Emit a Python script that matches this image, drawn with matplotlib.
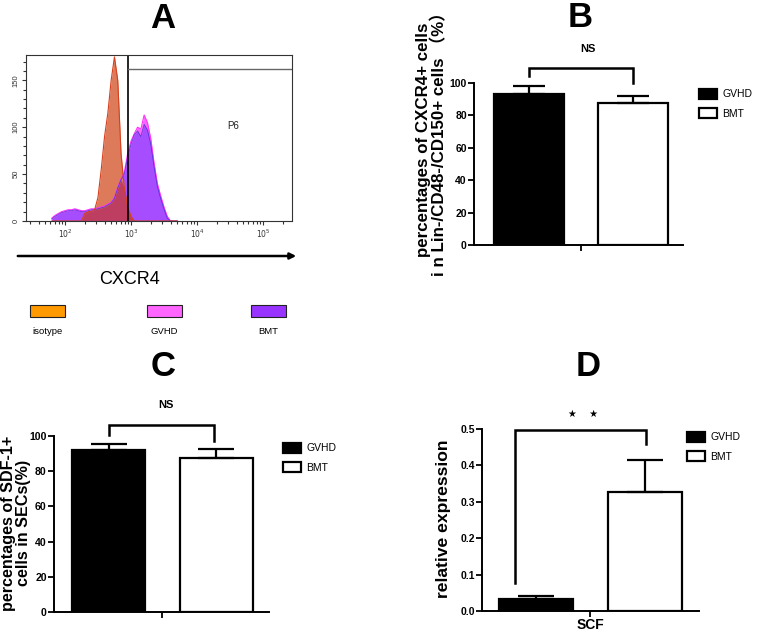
import numpy as np
import matplotlib
matplotlib.use("Agg")
import matplotlib.pyplot as plt
from matplotlib.patches import Rectangle, FancyArrowPatch
from matplotlib.ticker import MultipleLocator, FixedLocator

# ---------------- data ----------------
# Panel A: flow histogram (log10 of CXCR4 intensity, counts)
hist_log_bins = [1.80, 1.85, 1.90, 1.95, 2.00, 2.05, 2.10, 2.15, 2.20, 2.25,
                 2.30, 2.35, 2.40, 2.45, 2.50, 2.55, 2.60, 2.65, 2.70, 2.75,
                 2.80, 2.85, 2.90, 2.95, 3.00, 3.05, 3.10, 3.15, 3.20, 3.25,
                 3.30, 3.35, 3.40, 3.45, 3.50, 3.55, 3.60, 3.65, 3.70]
isotype_counts = [0, 0, 0, 0, 0, 0, 0, 0, 0, 0,
                  8, 10, 10, 12, 25, 55, 90, 115, 150, 175,
                  150, 72, 35, 15, 5, 0, 0, 0, 0, 0,
                  0, 0, 0, 0, 0, 0, 0, 0, 0]
gvhd_counts = [3, 6, 8, 10, 11, 12, 12, 13, 12, 11,
               11, 12, 13, 13, 14, 15, 16, 18, 20, 25,
               36, 45, 52, 72, 85, 93, 100, 98, 113, 105,
               88, 62, 40, 27, 15, 5, 0, 0, 0]
bmt_counts = [2, 5, 7, 9, 10, 11, 11, 12, 11, 10,
              10, 11, 12, 12, 13, 14, 15, 17, 19, 24,
              35, 44, 50, 68, 82, 92, 96, 90, 103, 97,
              82, 58, 37, 24, 13, 3, 0, 0, 0]
hist_labels = ["isotype", "GVHD", "BMT"]
gate_log = 2.95
gate_level = 162
gate_name = "P6"

groups = ["GVHD", "BMT"]
# Panel B
b_means = [93, 87.6]
b_errs = [5, 4.4]
# Panel C
c_means = [92, 87.5]
c_errs = [3.5, 5.1]
# Panel D
d_category = "SCF"
d_means = [0.034, 0.327]
d_errs = [0.006, 0.088]

# ---------------- layout helpers ----------------
W, H = 757, 636
fig = plt.figure(figsize=(W / 100, H / 100), dpi=100)
plt.rcParams['font.family'] = ['Liberation Sans', 'DejaVu Sans']


def fx(x):
    return x / W


def fy(y):
    return 1 - y / H


def add_ax(x0, x1, ytop, ybot):
    return fig.add_axes([fx(x0), fy(ybot), (x1 - x0) / W, (ybot - ytop) / H])


bold = dict(fontweight='bold')

# ---------------- Panel A ----------------
axA = add_ax(26, 292, 55, 221)
xs = [10 ** v for v in hist_log_bins]
pink = '#FF66FF'
purple = '#A64DFF'
salmon = '#DC7A5A'
axA.fill_between(xs, gvhd_counts, color=pink, lw=0)
axA.plot(xs, gvhd_counts, color='#FF33FF', lw=0.8)
axA.fill_between(xs, bmt_counts, color=purple, lw=0)
axA.plot(xs, bmt_counts, color='#3b2fd0', lw=0.6, alpha=0.8)
axA.fill_between(xs, isotype_counts, color=salmon, lw=0)
overlap = np.minimum(isotype_counts, bmt_counts)
axA.fill_between(xs, overlap, color='#BE3E62', lw=0)
axA.plot(xs, isotype_counts, color='#D5401E', lw=0.8)
axA.set_xscale('log')
axA.set_xlim(10 ** 1.41, 10 ** 5.44)
axA.set_ylim(0, 177)
axA.axvline(10 ** gate_log, color='black', lw=1.2)
axA.plot([10 ** gate_log, 10 ** 5.44], [gate_level, gate_level], color='#666666', lw=1.0)
axA.text(10 ** 4.55, 101, gate_name, fontsize=7, ha='center', va='center', color='#222222')
axA.xaxis.set_major_locator(FixedLocator([1e2, 1e3, 1e4, 1e5]))
axA.set_xticklabels([r'$10^2$', r'$10^3$', r'$10^4$', r'$10^5$'], fontsize=5.5, color='#333333')
axA.yaxis.set_major_locator(FixedLocator([0, 50, 100, 150]))
axA.yaxis.set_minor_locator(MultipleLocator(10))
axA.set_yticklabels(['0', '50', '100', '150'], fontsize=5.5, rotation=90, va='center', color='#333333')
axA.tick_params(axis='both', which='both', direction='out', length=3, width=0.8, color='#333333', pad=1.5)
axA.tick_params(axis='both', which='minor', length=2.5)
for s in axA.spines.values():
    s.set_linewidth(0.8)
    s.set_color('#333333')

fig.text(fx(163), fy(19), 'A', fontsize=25, ha='center', va='center', **bold)
fig.add_artist(FancyArrowPatch((fx(15), fy(256)), (fx(299), fy(256)), transform=fig.transFigure,
                               arrowstyle='-|>', mutation_scale=9, lw=1.8, color='black'))
fig.text(fx(130), fy(279), 'CXCR4', fontsize=13, ha='center', va='center')

box_colors = ['#FF9900', pink, '#9933FF']
box_x = [30, 147, 251]
for lbl, c, x0 in zip(hist_labels, box_colors, box_x):
    fig.add_artist(Rectangle((fx(x0), fy(317)), 35 / W, 12 / H, transform=fig.transFigure,
                             facecolor=c, edgecolor='#222222', lw=0.8))
    fig.text(fx(x0 + 17.5), fy(331), lbl, fontsize=6.8, ha='center', va='center')


# ---------------- bar panels ----------------
def bar_panel(ax, means, errs, width, xlim, ylim, ybound, yticks, fmt, capsize, tfs):
    bars = []
    for i, (m, e) in enumerate(zip(means, errs)):
        fc = 'black' if i == 0 else 'white'
        b = ax.bar(i, m, width=width, color=fc, edgecolor='black', lw=1.6, zorder=2)
        ax.errorbar(i, m, yerr=[[0], [e]], color='black', lw=1.6, capsize=capsize, capthick=1.6, zorder=3)
        bars.append(b)
    ax.set_xlim(*xlim)
    ax.set_ylim(*ylim)
    for s in ['top', 'right']:
        ax.spines[s].set_visible(False)
    ax.spines['left'].set_bounds(0, ybound)
    ax.spines['left'].set_linewidth(1.4)
    ax.spines['bottom'].set_linewidth(1.4)
    ax.set_yticks(yticks)
    ax.set_yticklabels([fmt.format(v) for v in yticks], fontsize=tfs, fontweight='bold')
    ax.set_xticks([0.5])
    ax.tick_params(axis='both', direction='out', length=4, width=1.3, pad=1.2)
    return bars


def bracket(ax, x0, x1, ytop, yl, yr):
    ax.plot([x0, x0, x1, x1], [yl, ytop, ytop, yr], color='black', lw=1.8, clip_on=False,
            solid_joinstyle='miter')


def legend(ax, bars, x, y):
    ax.legend([bars[0], bars[1]], groups, loc='upper left', bbox_to_anchor=(fx(x), fy(y)),
              bbox_transform=fig.transFigure, frameon=False, handlelength=1.7,
              handleheight=1.05, handletextpad=0.55, labelspacing=0.85, borderpad=0, borderaxespad=0,
              prop=dict(size=7.5))


# Panel B
axB = add_ax(474, 683, 40, 245)
barsB = bar_panel(axB, b_means, b_errs, 0.67, (-0.53, 1.48), (0, 126.5), 100,
                  [0, 20, 40, 60, 80, 100], '{:d}', 11.5, 7.5)
axB.set_xticklabels([''])
bracket(axB, 0, 1, 109.5, 104.5, 100)
fig.text(fx(588), fy(49.5), 'NS', fontsize=8, ha='center', va='center', **bold)
fig.text(fx(580), fy(17.5), 'B', fontsize=25, ha='center', va='center', **bold)
legend(axB, barsB, 699, 89)
fig.text(fx(432), fy(140), 'percentages of CXCR4+ cells\ni n Lin-/CD48-/CD150+ cells （%）',
         rotation=90, ha='center', va='center', multialignment='center', fontsize=12.2,
         linespacing=1.0, fontweight='bold', family=['Liberation Sans', 'Noto Sans CJK SC'])

# Panel C
axC = add_ax(54, 269, 395, 612)
barsC = bar_panel(axC, c_means, c_errs, 0.68, (-0.507, 1.49), (0, 123.3), 100,
                  [0, 20, 40, 60, 80, 100], '{:d}', 13, 7.6)
axC.set_xticklabels([''])
bracket(axC, 0.005, 0.98, 106, 100.5, 97)
fig.text(fx(166), fy(404.5), 'NS', fontsize=8, ha='center', va='center', **bold)
fig.text(fx(163), fy(366), 'C', fontsize=25, ha='center', va='center', **bold)
legend(axC, barsC, 283, 443)
fig.text(fx(16), fy(523), 'percentages of SDF-1+\ncells in SECs(%)',
         rotation=90, ha='center', va='center', multialignment='center', fontsize=11.6,
         linespacing=0.95, fontweight='bold')

# Panel D
axD = add_ax(482, 699, 400, 611)
barsD = bar_panel(axD, d_means, d_errs, 0.68, (-0.495, 1.495), (0, 0.5797), 0.5,
                  [0.0, 0.1, 0.2, 0.3, 0.4, 0.5], '{:.1f}', 13, 7.5)
axD.set_xticklabels([d_category], fontsize=10, fontweight='bold')
bracket(axD, -0.19, 1.01, 0.497, 0.077, 0.46)
fig.text(fx(583), fy(414), '★    ★', fontsize=7, ha='center', va='center', family='DejaVu Sans')
fig.text(fx(588), fy(366), 'D', fontsize=25, ha='center', va='center', **bold)
legend(axD, barsD, 687, 432)
fig.text(fx(443), fy(519), 'relative expression',
         rotation=90, ha='center', va='center', fontsize=12.6, fontweight='bold')

fig.savefig('out.png', dpi=100)
